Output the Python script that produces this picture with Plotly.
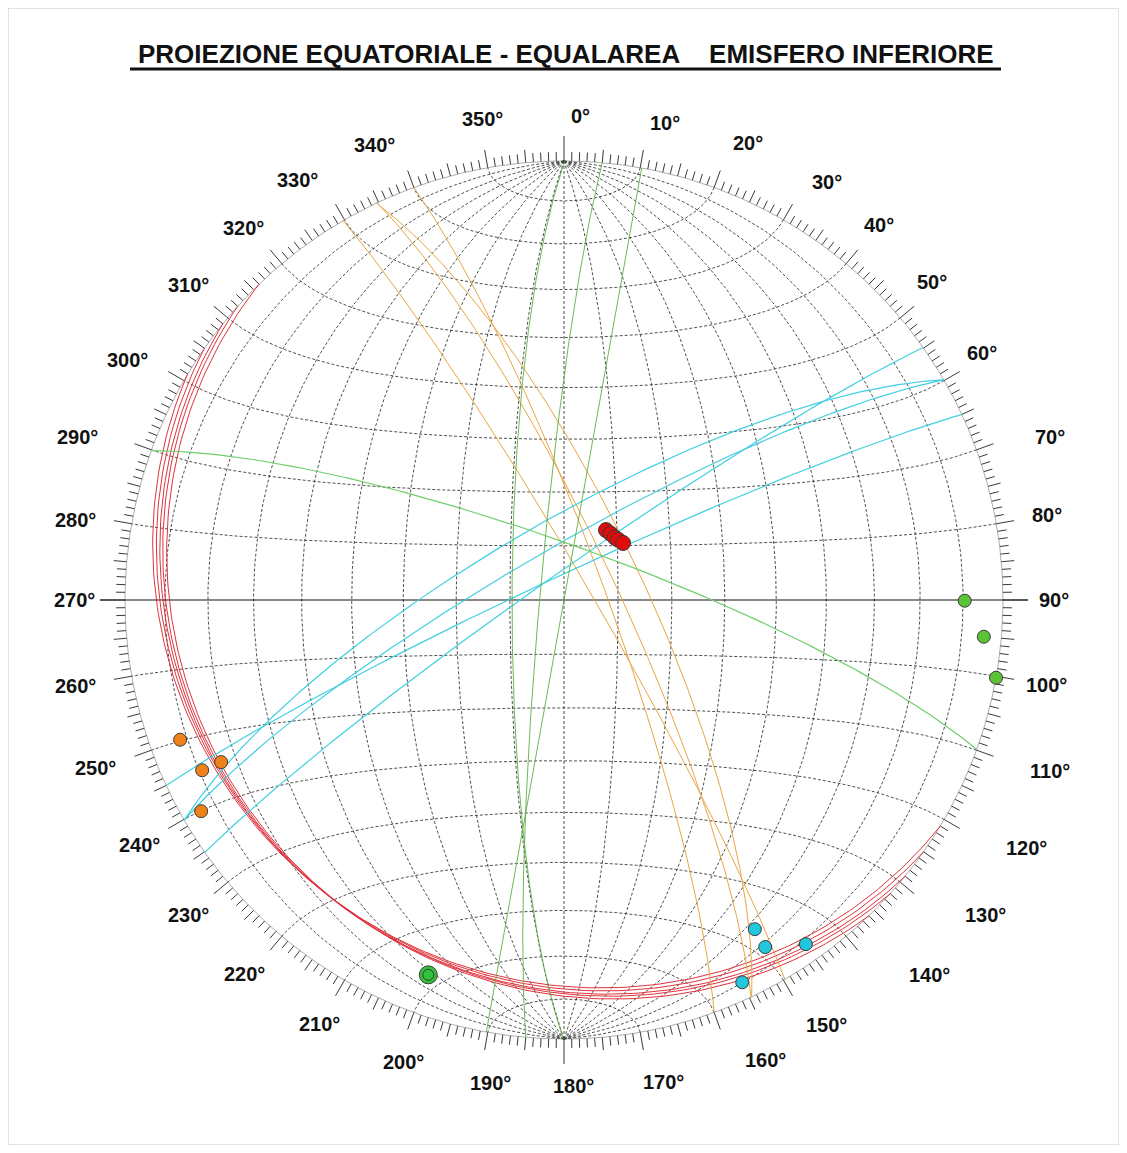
import numpy as np
import plotly.graph_objects as go

# ---------------- data ----------------
# planes given as dip direction / dip (degrees); poles are derived from them
red_dipdir = [211, 215, 219, 222, 226]
red_dip = [15.1, 15.0, 14.9, 15.0, 15.2]

orange_dipdir = [70.0, 64.8, 64.7, 59.8]
orange_dip = [82.3, 80.2, 75.3, 85.1]

cyan_dipdir = [329.9, 329.9, 324.9, 335.0]
cyan_dip = [75.6, 80.5, 85.3, 85.6]

green_dipdir = [270.1, 275.0, 280.2]
green_dip = [80.4, 85.5, 90.0]

green2_dipdir = [19.9]
green2_dip = [79.9]

azimuth_labels = list(range(0, 360, 10))
title_text = "PROIEZIONE EQUATORIALE - EQUALAREA\u00a0\u00a0\u00a0\u00a0EMISFERO INFERIORE"

# ---------------- geometry helpers ----------------
PAGE_MARGIN = 8                 # default body margin of the page
W, H = 1127 - 2 * PAGE_MARGIN, 1153 - 2 * PAGE_MARGIN
CX, CY = 564, 600               # net centre in window pixels
R = 439.0


def project(n, e, d):
    """Equal-area (Schmidt) projection of lower-hemisphere unit vectors."""
    n, e, d = np.asarray(n, float), np.asarray(e, float), np.abs(np.asarray(d, float))
    k = R / np.sqrt(1.0 + d)
    return e * k, n * k


def great_circle(dipdir, dip, npts=181):
    a = np.radians(np.linspace(0, 180, npts))
    al, de = np.radians(dipdir), np.radians(dip)
    s = np.array([np.cos(al - np.pi / 2), np.sin(al - np.pi / 2), 0.0])
    dv = np.array([np.cos(de) * np.cos(al), np.cos(de) * np.sin(al), np.sin(de)])
    v = np.outer(np.cos(a), s) + np.outer(np.sin(a), dv)
    return project(v[:, 0], v[:, 1], v[:, 2])


def pole(dipdir, dip):
    tr = np.radians(dipdir + 180.0)
    pl = np.radians(90.0 - dip)
    return project(np.cos(pl) * np.cos(tr), np.cos(pl) * np.sin(tr), np.sin(pl))


def join(segments):
    xs, ys = [], []
    for x, y in segments:
        xs += list(x) + [None]
        ys += list(y) + [None]
    return xs, ys


fig = go.Figure()

# ---------------- net grid ----------------
grid = []
a = np.radians(np.linspace(0, 180, 181))
for dlt in range(10, 180, 10):  # meridians (great circles through N-S)
    dl = np.radians(dlt)
    grid.append(project(np.cos(a), np.sin(a) * np.cos(dl), np.sin(a) * np.sin(dl)))
for bt in range(10, 180, 10):  # small circles about the N-S axis
    if bt == 90:
        continue
    b = np.radians(bt)
    grid.append(project(np.full_like(a, np.cos(b)), np.sin(b) * np.cos(a), np.sin(b) * np.sin(a)))
gx, gy = join(grid)
fig.add_trace(go.Scatter(x=gx, y=gy, mode="lines", hoverinfo="skip",
                         line=dict(color="#222222", width=0.8, dash="3px,2px")))

# primitive circle
t = np.radians(np.linspace(0, 360, 721))
fig.add_trace(go.Scatter(x=R * np.sin(t), y=R * np.cos(t), mode="lines", hoverinfo="skip",
                         line=dict(color="#777777", width=0.6)))

# E-W diameter (solid)
fig.add_trace(go.Scatter(x=[-R - 25, R + 25], y=[0, 0], mode="lines", hoverinfo="skip",
                         line=dict(color="#111111", width=1.1)))

# ---------------- azimuth ticks ----------------
tx, ty = [], []
for az in range(360):
    if az % 90 == 0:
        L = 25
    elif az % 10 == 0:
        L = 18
    elif az % 5 == 0:
        L = 13
    else:
        L = 9
    ar = np.radians(az)
    tx += [R * np.sin(ar), (R + L) * np.sin(ar), None]
    ty += [R * np.cos(ar), (R + L) * np.cos(ar), None]
fig.add_trace(go.Scatter(x=tx, y=ty, mode="lines", hoverinfo="skip",
                         line=dict(color="#222222", width=0.9)))

# ---------------- great circles ----------------
sets = [
    (red_dipdir, red_dip, "#e0323c", 1.0),
    (orange_dipdir, orange_dip, "#e9a545", 1.0),
    (cyan_dipdir, cyan_dip, "#3fcfe0", 1.2),
    (green_dipdir, green_dip, "#5cb040", 0.9),
    (green2_dipdir, green2_dip, "#6fcf6a", 1.2),
]
for dd, dp, col, wd in sets:
    xs, ys = join([great_circle(a_, b_) for a_, b_ in zip(dd, dp)])
    fig.add_trace(go.Scatter(x=xs, y=ys, mode="lines", hoverinfo="skip",
                             line=dict(color=col, width=wd)))

# ---------------- poles ----------------
pole_sets = [
    (red_dipdir, red_dip, "#e00c0c", 15),
    (orange_dipdir, orange_dip, "#f0821a", 13),
    (cyan_dipdir, cyan_dip, "#22c6dd", 13),
    (green_dipdir, green_dip, "#5cc238", 13),
    (green2_dipdir, green2_dip, "#2fc23a", 18),
    (green2_dipdir, green2_dip, "#2fc23a", 11),
]
for dd, dp, col, sz in pole_sets:
    px, py = zip(*[pole(a_, b_) for a_, b_ in zip(dd, dp)])
    fig.add_trace(go.Scatter(x=[float(v) for v in px], y=[float(v) for v in py], mode="markers",
                             hoverinfo="skip",
                             marker=dict(size=sz, color=col, line=dict(color="#3a3a3a", width=1))))

# ---------------- labels ----------------
# layout nudges of the hand-placed azimuth labels: (extra radius px, extra angle deg)
label_nudge = {0: (-6, 1.9), 10: (-2, 2.0), 20: (3, 1.9), 30: (4, 2.2),
               50: (-4, -0.8), 60: (-4, -0.6),
               70: (23, 1.5), 110: (25, -0.6), 120: (35, -1.8), 130: (36, -3.2),
               140: (34, -4.3), 150: (9, -1.7), 160: (12, -3.7), 170: (2, -1.7),
               180: (-4, -1.1), 190: (-1, -1.3), 200: (-1, -0.9), 220: (2, 0.5),
               250: (8, 0.3), 260: (6, 0), 280: (5, -0.7),
               290: (23, -1.5), 300: (8, -1.2), 320: (1, -0.8), 330: (8, -2.4), 340: (3, -2.6),
               350: (-2, 0.4)}
annotations = []
for az in azimuth_labels:
    dr, da = label_nudge.get(az, (0, 0))
    ar = np.radians(az + da)
    rl = 490 + dr
    annotations.append(dict(x=rl * np.sin(ar), y=rl * np.cos(ar), text=f"<b>{az}°</b>",
                            showarrow=False, xref="x", yref="y",
                            font=dict(family="Liberation Sans, Arial", size=20, color="#111111")))
annotations.append(dict(x=2, y=CY - 54, text=f"<b>{title_text}</b>", showarrow=False,
                        xref="x", yref="y",
                        font=dict(family="Liberation Sans, Arial", size=26, color="#111111")))

shapes = [
    dict(type="line", xref="x", yref="y", x0=130 - CX, x1=1001 - CX, y0=CY - 69, y1=CY - 69,
         line=dict(color="#111111", width=3)),
    dict(type="rect", xref="paper", yref="paper", x0=0, x1=1, y0=0, y1=1,
         line=dict(color="#c8c8c8", width=1)),
]

x0 = PAGE_MARGIN - CX
y0 = CY - PAGE_MARGIN
fig.update_layout(
    width=W, height=H,
    margin=dict(l=0, r=0, t=0, b=0),
    paper_bgcolor="white", plot_bgcolor="white",
    showlegend=False,
    xaxis=dict(range=[x0, x0 + W], visible=False, fixedrange=True),
    yaxis=dict(range=[y0 - H, y0], visible=False, fixedrange=True),
    annotations=annotations,
    shapes=shapes,
)

fig.write_html("out.html", config={"displayModeBar": False})
